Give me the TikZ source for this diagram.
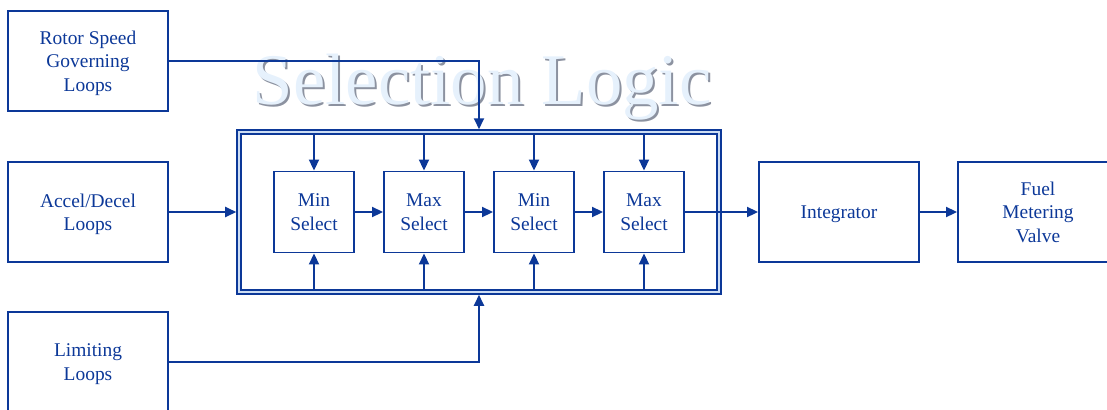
\documentclass[tikz,border=0pt]{standalone}
\usepackage{fontspec}
\setmainfont{Liberation Serif}
\usepackage{tikz}
\usetikzlibrary{arrows.meta,positioning,calc}
\definecolor{myblue}{RGB}{12,56,152}
\definecolor{mylightblue}{RGB}{205,222,244}
\definecolor{mytitle}{RGB}{230,241,252}
\definecolor{myshadow}{RGB}{140,146,160}

\begin{document}
\begin{tikzpicture}[
  x=1bp, y=-1bp,
  line width=1.9bp,
  draw=myblue,
  mybox/.style={
    draw,
    rectangle,
    minimum width=160bp,
    minimum height=100bp,
    inner sep=0pt,
    align=center,
    text depth=-3.5pt,
    text=myblue,
    font=\fontsize{19.5}{23.5}\selectfont
    },
  selbox/.style={
    mybox,
    minimum width=80bp,
    minimum height=81bp
    },
  outerbox/.style={
    draw,
    line width=1.6bp,
    double=mylightblue,
    double distance=2.3bp,
    rectangle,
    minimum width=480bp,
    minimum height=160bp,
    outer sep=2.75bp
    },
  arr/.style={
    -{Triangle[length=11bp,width=10bp]},
    myblue
    }
]
\useasboundingbox (0,0) rectangle (1107,409);

% title
\node[anchor=base, text=myshadow, font=\fontsize{73}{73}\selectfont] at (484,106.5) {Selection Logic};
\node[anchor=base, text=mytitle, font=\fontsize{73}{73}\selectfont] (title) at (482,104.5) {Selection Logic};

% inputs
\node[mybox] (rotor) at (88,61) {Rotor Speed\\Governing\\Loops};
\node[mybox] (accel) at (88,212) {Accel/Decel\\Loops};
\node[mybox] (limit) at (88,362) {Limiting\\Loops};

% selection logic
\node[outerbox] (sel) at (479,212) {};
\coordinate (seltop) at ([yshift=-5.5bp]sel.north);
\coordinate (selbot) at ([yshift=5.5bp]sel.south);

\foreach \name/\txt [count=\i from 0] in {s1/Min, s2/Max, s3/Min, s4/Max}
  \node[selbox] (\name) at (314+110*\i,212) {\txt\\Select};

\foreach \name in {s1,s2,s3,s4}
  {
  \draw[arr] (seltop -| \name) -- (\name.north);
  \draw[arr] (selbot -| \name) -- (\name.south);
  }

\foreach \a/\b in {s1/s2, s2/s3, s3/s4}
  \draw[arr] (\a) -- (\b);

% outputs
\node[mybox] (integ) at (839,212) {Integrator};
\node[mybox] (fuel) at (1038,212) {Fuel\\Metering\\Valve};

\draw[arr] (rotor.east) -| (sel.north);
\draw[arr] (limit.east) -| (sel.south);
\draw[arr] (accel) -- (sel.west |- accel);
\draw[arr] (s4) -- (integ);
\draw[arr] (integ) -- (fuel);

\end{tikzpicture}
\end{document}
